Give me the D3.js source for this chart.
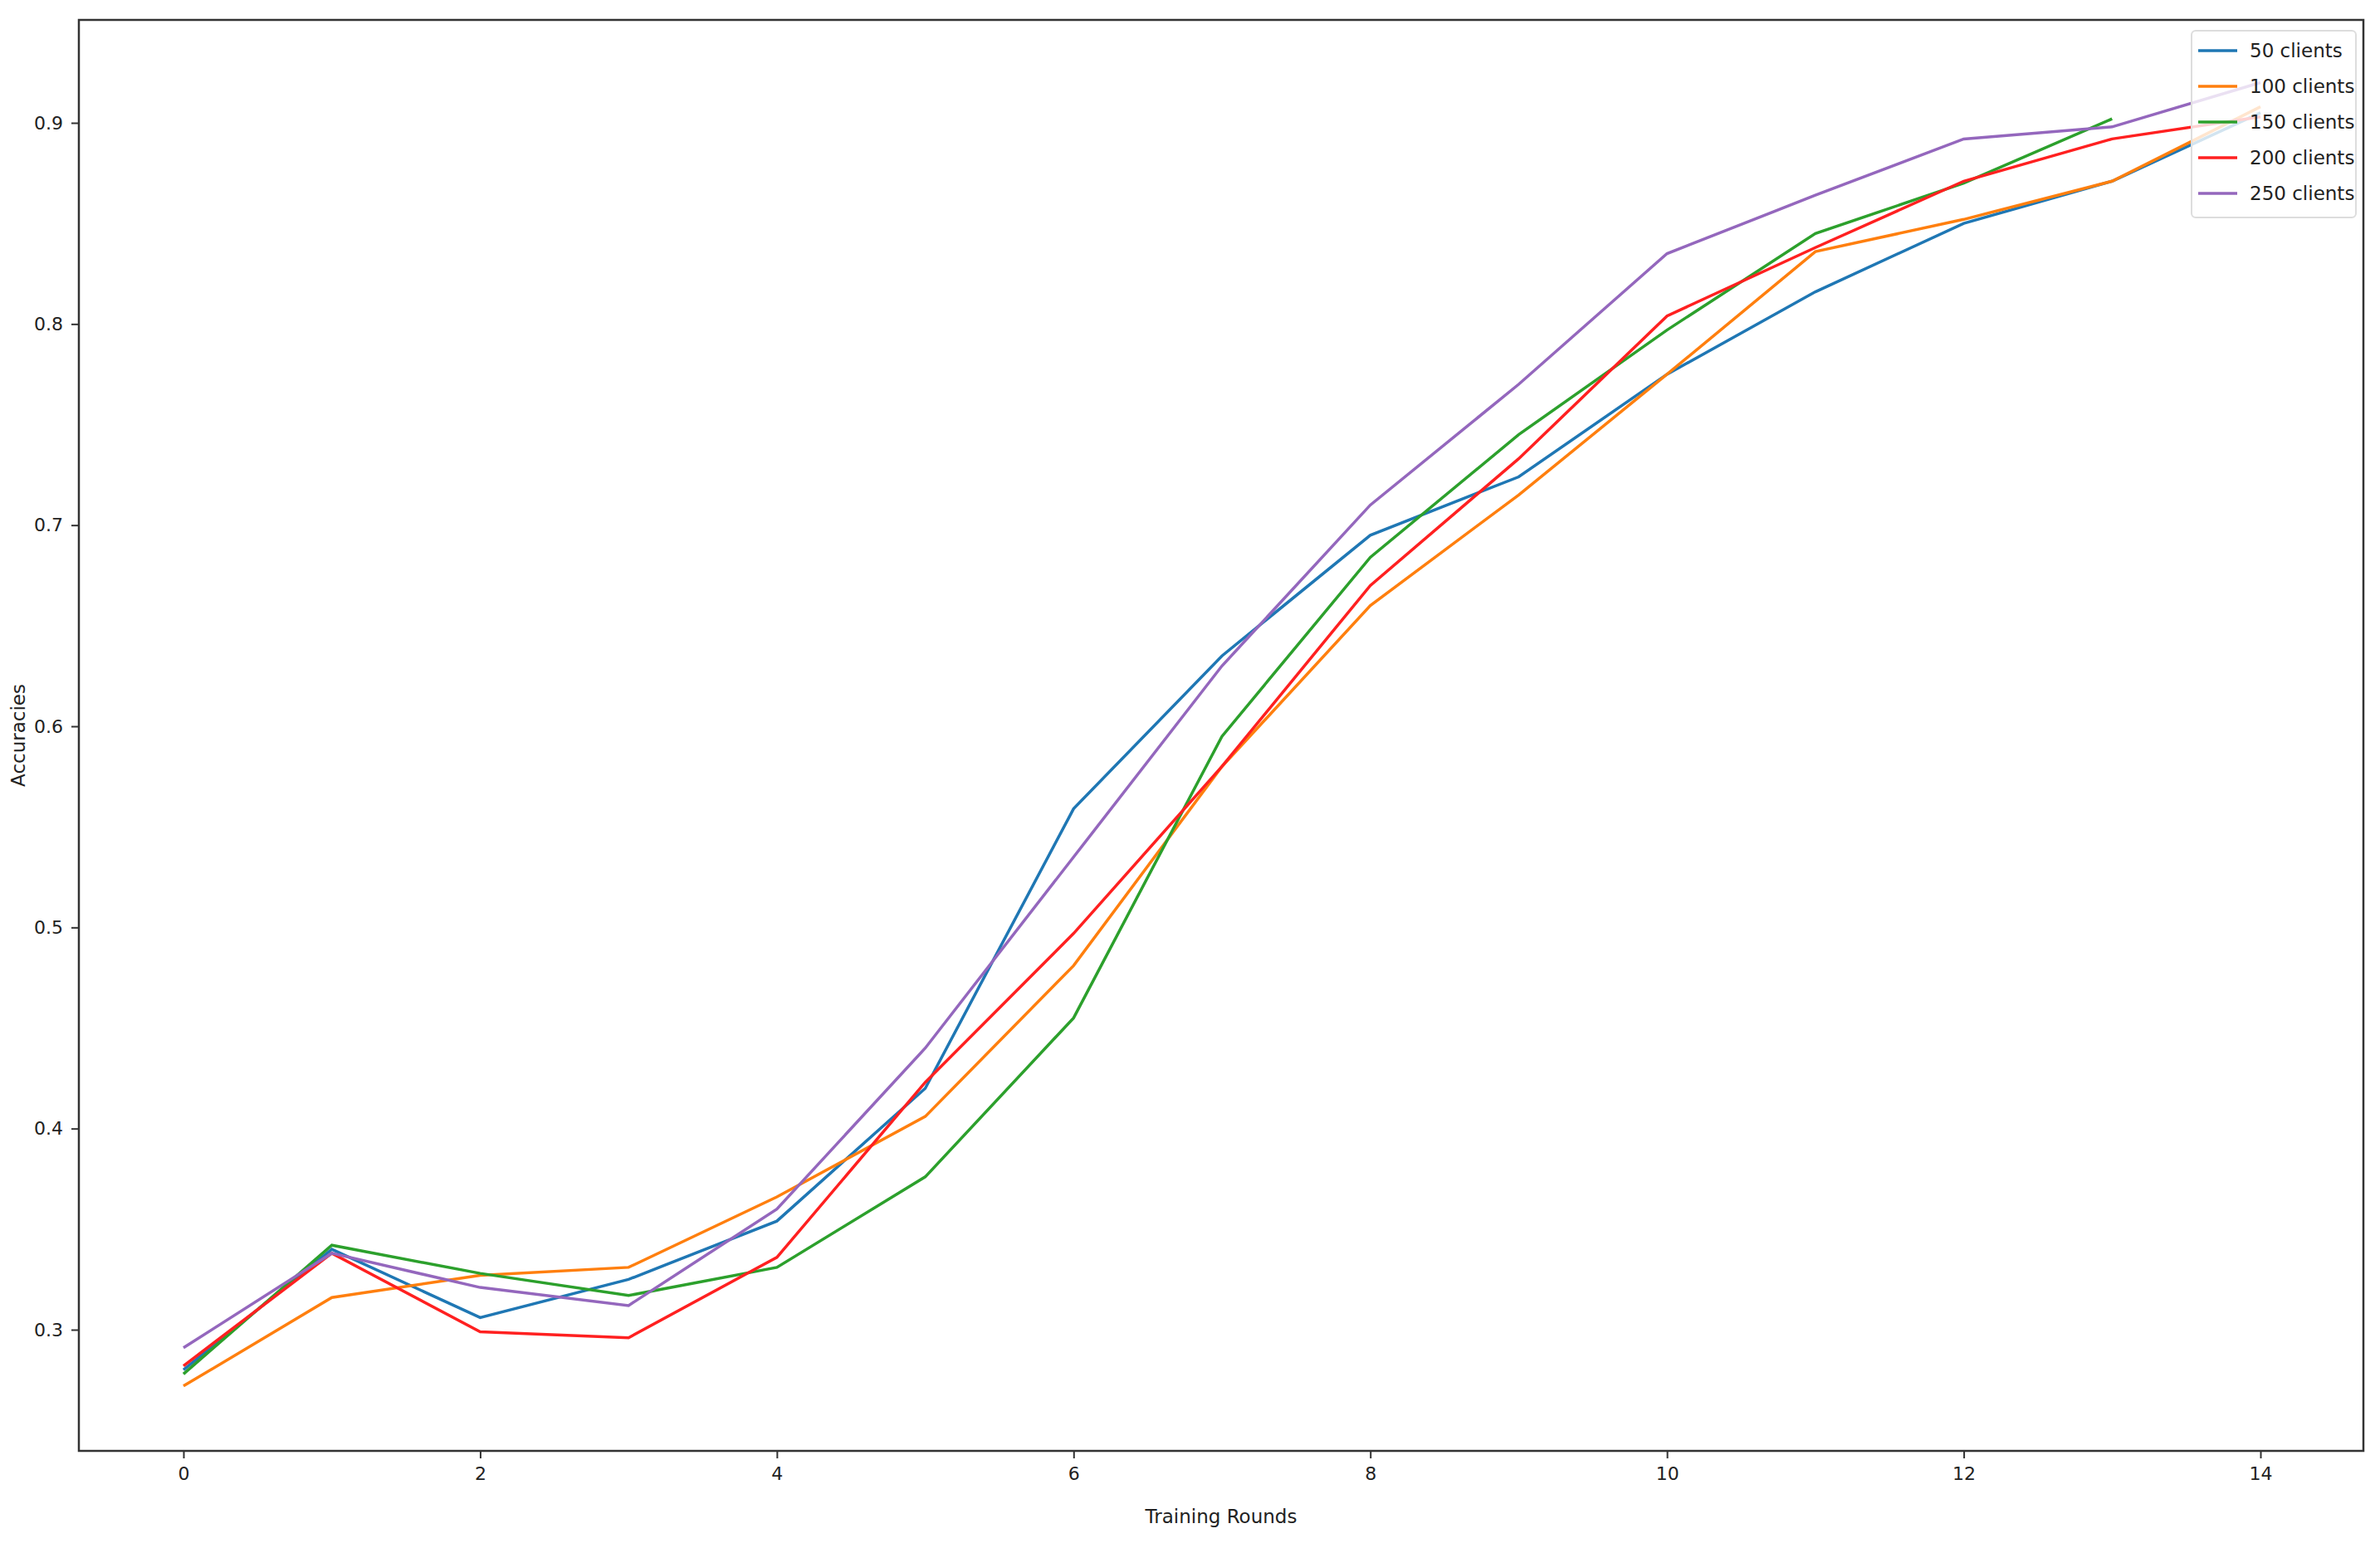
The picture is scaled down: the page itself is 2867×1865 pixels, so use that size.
<!DOCTYPE html>
<html><head><meta charset="utf-8">
<script src="https://cdn.jsdelivr.net/npm/d3@7"></script>
<style>body{margin:0;background:#fff}text{font-family:"DejaVu Sans",sans-serif;fill:#222}</style>
</head><body><svg id="chart" width="2867" height="1865"></svg>
<script>
const rounds = d3.range(15);
const seriesNames = ['50 clients', '100 clients', '150 clients', '200 clients', '250 clients'];
const colors = ['#1f77b4', '#ff7f0e', '#2ca02c', '#ff2020', '#9467bd'];
const acc50 = [0.280, 0.340, 0.306, 0.325, 0.354, 0.420, 0.559, 0.635, 0.695, 0.724, 0.775, 0.816, 0.850, 0.871, 0.905];
const acc100 = [0.272, 0.316, 0.327, 0.331, 0.366, 0.406, 0.481, 0.580, 0.660, 0.715, 0.775, 0.836, 0.852, 0.871, 0.908];
const acc150 = [0.278, 0.342, 0.328, 0.317, 0.331, 0.376, 0.455, 0.595, 0.684, 0.745, 0.797, 0.845, 0.870, 0.902];
const acc200 = [0.282, 0.338, 0.299, 0.296, 0.336, 0.423, 0.497, 0.580, 0.670, 0.733, 0.804, 0.838, 0.871, 0.892, 0.903];
const acc250 = [0.291, 0.338, 0.321, 0.312, 0.360, 0.440, 0.535, 0.630, 0.710, 0.770, 0.835, 0.864, 0.892, 0.898, 0.920];
const allSeries = [acc50, acc100, acc150, acc200, acc250];
const xTicks = [0, 2, 4, 6, 8, 10, 12, 14];
const yTicks = [0.3, 0.4, 0.5, 0.6, 0.7, 0.8, 0.9];

const svg = d3.select('#chart');
const plotL = 95, plotR = 2847, plotT = 24, plotB = 1748;
// x: 0 -> 221, 14 -> 2723 ; y: 0.3 -> 1602, 0.9 -> 148
const xPer = (2723 - 221) / 14, yPer = (1602 - 148) / 0.6;
const x = d3.scaleLinear().domain([(plotL - 221) / xPer, (plotR - 221) / xPer]).range([plotL, plotR]);
const y = d3.scaleLinear().domain([0.3 - (plotB - 1602) / yPer, 0.9 + (148 - plotT) / yPer]).range([plotB, plotT]);

const g = svg.append('g');
g.append('g').attr('transform', `translate(0,${plotB})`)
  .call(d3.axisBottom(x).tickValues(xTicks).tickSize(9).tickPadding(10).tickFormat(d3.format('d')))
  .call(a => a.select('.domain').remove())
  .selectAll('text').style('font-size', '22px');
g.append('g').attr('transform', `translate(${plotL},0)`)
  .call(d3.axisLeft(y).tickValues(yTicks).tickSize(9).tickPadding(10).tickFormat(d3.format('.1f')))
  .call(a => a.select('.domain').remove())
  .selectAll('text').style('font-size', '22px');
g.selectAll('.tick line').attr('stroke', '#333').attr('stroke-width', 2);

const line = d3.line().x((d, i) => x(rounds[i])).y(d => y(d));
allSeries.forEach((s, i) => {
  g.append('path').datum(s).attr('d', line).attr('fill', 'none')
    .attr('stroke', colors[i]).attr('stroke-width', 3.5);
});

g.append('rect').attr('x', plotL).attr('y', plotT).attr('width', plotR - plotL).attr('height', plotB - plotT)
  .attr('fill', 'none').attr('stroke', '#333').attr('stroke-width', 2.5);

g.append('text').attr('x', (plotL + plotR) / 2).attr('y', 1835).attr('text-anchor', 'middle')
  .style('font-size', '23px').text('Training Rounds');
g.append('text').attr('transform', `translate(30,${(plotT + plotB) / 2}) rotate(-90)`).attr('text-anchor', 'middle')
  .style('font-size', '23px').text('Accuracies');

// legend
const lg = g.append('g').attr('transform', 'translate(2640,37)');
lg.append('rect').attr('width', 198).attr('height', 225).attr('rx', 5)
  .attr('fill', 'rgba(255,255,255,0.8)').attr('stroke', '#ddd').attr('stroke-width', 2);
seriesNames.forEach((n, i) => {
  const yy = 24 + i * 43;
  lg.append('line').attr('x1', 8).attr('x2', 55).attr('y1', yy).attr('y2', yy)
    .attr('stroke', colors[i]).attr('stroke-width', 3.5);
  lg.append('text').attr('x', 70).attr('y', yy + 8).style('font-size', '23px').text(n);
});
</script></body></html>
